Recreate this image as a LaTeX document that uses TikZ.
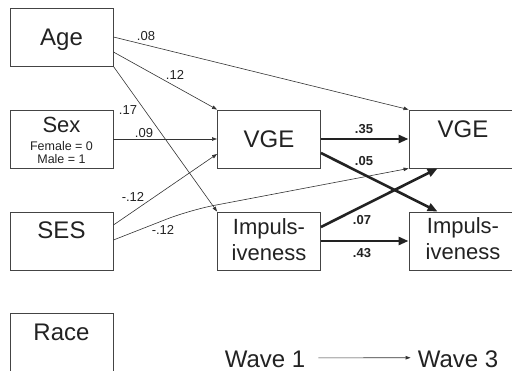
\documentclass[tikz,border=0pt]{standalone}
\usepackage{fontspec}
\setmainfont{Liberation Sans}
\usetikzlibrary{arrows.meta}
\definecolor{txt}{HTML}{222222}
\definecolor{boxgray}{HTML}{444444}
\definecolor{linegray}{HTML}{333333}
\begin{document}
\begin{tikzpicture}[x=1pt,y=-1pt,
  box/.style={draw=boxgray, line width=0.9pt, minimum width=103pt, minimum height=58pt,
    inner sep=0pt, font=\fontsize{24}{26}\selectfont, text=txt, text height=17pt, text depth=0pt},
  twoline/.style={align=center, font=\fontsize{22}{26}\selectfont, text height=42pt, text depth=2pt},
  thin/.style={draw=linegray, line width=0.6pt, -{Triangle[length=5pt,width=3.5pt]}},
  thick/.style={draw=txt, line width=2.6pt, -{Triangle[length=10pt,width=8pt]}},
  lab/.style={font=\fontsize{13}{13}\selectfont, text=txt, inner sep=0pt},
  blab/.style={font=\fontsize{13}{13}\selectfont\bfseries, text=txt, inner sep=0pt},
  wave/.style={font=\fontsize{24}{26}\selectfont, text=txt, anchor=base, inner sep=0pt}
]
\useasboundingbox (0,0) rectangle (512,371);

% Wave 1 boxes
\node[box] (age) at (61.5,37) {Age};
\node[box, font=\fontsize{22}{24}\selectfont, text height=16pt, text depth=28pt] (sex) at (61.5,139) {Sex};
\node[align=center, font=\fontsize{12.5}{13}\selectfont, text=txt, inner sep=0pt, anchor=base] (sexcode) at (61.5,164) {Female = 0\\Male = 1};
\node[box, text depth=21pt] (ses) at (61.5,241) {SES};
\node[box, text depth=19pt] (race) at (61.5,342) {Race};

\node[box] (vge1) at (269,139) {VGE};
\node[box, twoline] (imp1) at (269,241) {Impuls-\\iveness};

% Wave 3 boxes
\node[box, minimum width=108pt, text depth=19pt] (vge3) at (463,139) {VGE};
\node[box, twoline, minimum width=108pt, text depth=4pt] (imp3) at (463,241) {Impuls-\\iveness};

% thin paths
\draw[thin] (age.east) -- (vge3.north west);
\draw[thin] ([yshift=-15pt]age.east) -- (vge1.north west);
\draw[thin] (age.south east) -- (imp1.north west);
\draw[thin] (sex.east) -- (vge1.west);
\draw[thin] ([yshift=16pt]ses.east) -- ([yshift=-15pt]vge1.west);
\coordinate (sesbend) at (190,210);
\draw[thin, rounded corners=25pt] ([yshift=1pt]ses.east) -- (sesbend) -- (vge3.south west);

% thick paths
\draw[thick] (vge1.east) -- (vge3.west);
\draw[thick] ([yshift=-14pt]vge1.east) -- ([xshift=29pt]imp3.north west);
\draw[thick] ([yshift=14pt]imp1.east) -- ([xshift=29pt]vge3.south west);
\draw[thick] (imp1.east) -- (imp3.west);

% labels
\node[lab] (l08) at (146,36) {.08};
\node[lab] (l12) at (175,75) {.12};
\node[lab] (l17) at (128,110) {.17};
\node[lab] (l09) at (144,133) {.09};
\node[lab] (lm12a) at (133,197) {-.12};
\node[lab] (lm12b) at (163,230) {-.12};
\node[blab] (l35) at (364,129) {.35};
\node[blab] (l05) at (364,161) {.05};
\node[blab] (l07) at (362,220) {.07};
\node[blab] (l43) at (362,253) {.43};

% wave legend
\node[wave] (w1) at (265,367.5) {Wave 1};
\node[wave] (w3) at (458,367.5) {Wave 3};
\draw[thin] ([xshift=13pt,yshift=1.5pt]w1.east) -- ([xshift=-7pt,yshift=1.5pt]w3.west);
\end{tikzpicture}
\end{document}
